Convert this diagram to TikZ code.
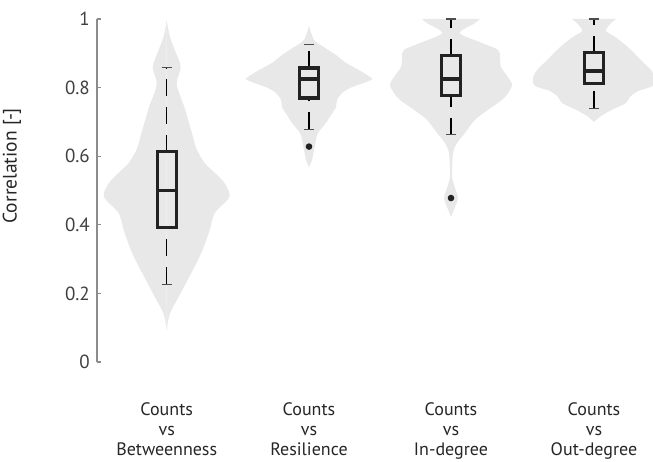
\documentclass[tikz,border=0pt]{standalone}
\usepackage{fontspec}
\setmainfont{PT Sans}
\usetikzlibrary{positioning}
\definecolor{violingray}{RGB}{232,232,232}
\definecolor{boxblack}{RGB}{34,34,34}
\definecolor{axisgray}{RGB}{140,140,140}
\definecolor{labelgray}{RGB}{64,64,64}
\tikzset{violin/.style={fill=violingray, draw=none},
	boxline/.style={draw=boxblack, line width=3.3pt},
	whisker/.style={draw=black, line width=1.1pt, dash pattern=on 17pt off 11pt},
	whiskercap/.style={draw=black!70, line width=1.1pt},
	outlier/.style={fill=boxblack},
	axisline/.style={draw=axisgray, line width=1.3pt},
	ticklabel/.style={font=\fontsize{19}{22}\selectfont, text=labelgray, anchor=east, inner sep=0pt},
	catlabel/.style={font=\fontsize{18}{20}\selectfont, text=black!85, align=center, anchor=north, inner sep=0pt}}

\begin{document}
\begin{tikzpicture}[x=1pt, y=1pt]
	\useasboundingbox (0,0) rectangle (653,462);
	\begin{scope}[yshift=100pt, y=343pt]
		% violins, one half at a time
		\foreach \s in {1,-1}{
			\fill[violin, xshift=166.7pt, xscale=\s] plot[smooth] coordinates {(0,0.09) (3,0.14) (12,0.19) (21,0.24) (30,0.29) (37,0.335) (43,0.385) (48,0.434) (60,0.47) (63,0.49) (57,0.525) (45,0.56) (38,0.58) (30,0.62) (25,0.67) (18,0.74) (10,0.81) (14,0.86) (8,0.91) (3,0.95) (0,0.997)} -- cycle;
			\fill[violin, xshift=309pt, xscale=\s] plot[smooth] coordinates {(0,0.569) (3,0.589) (5,0.618) (7,0.647) (9,0.668) (17,0.697) (22,0.72) (27,0.743) (28,0.764) (33,0.784) (42,0.80) (62,0.822) (61,0.831) (50,0.851) (37,0.872) (27,0.895) (15,0.918) (5,0.939) (0,0.98)} -- cycle;
			\fill[violin, xshift=451pt, xscale=\s] plot[smooth] coordinates {(0,0.423) (4,0.452) (7,0.478) (3,0.516) (1,0.545) (2,0.609) (6,0.638) (14,0.668) (24,0.706) (37,0.735) (51,0.764) (57,0.784) (61,0.808) (57,0.831) (50,0.86) (49,0.889) (47,0.91) (31,0.93) (9,0.959) (24,0.988) (29,1)} -- (0,1) -- cycle;
			\fill[violin, xshift=594pt, xscale=\s] plot[smooth] coordinates {(0,0.70) (7,0.717) (17,0.734) (32,0.755) (36,0.773) (44,0.79) (59,0.805) (61,0.828) (57,0.851) (47,0.880) (34,0.918) (21,0.948) (12,0.965) (16,0.985) (22,1)} -- (0,1) -- cycle;
		}
		% boxes and whiskers
		\foreach \x/\lo/\qa/\md/\qb/\hi [count=\i] in {166.7/0.227/0.393/0.500/0.613/0.858, 309/0.678/0.770/0.825/0.857/0.926, 451/0.662/0.776/0.825/0.893/1.0, 594/0.740/0.812/0.848/0.902/1.0}{
			\coordinate (low\i) at (\x,\lo);
			\coordinate (high\i) at (\x,\hi);
			\draw[whisker] (low\i) -- (\x,\qa);
			\draw[whisker] (\x,\qb) -- (high\i);
			\draw[whiskercap] ([xshift=-5pt]low\i) -- ([xshift=5pt]low\i);
			\draw[whiskercap] ([xshift=-5pt]high\i) -- ([xshift=5pt]high\i);
			\draw[boxline] (\x-9.5,\qa) rectangle (\x+9.5,\qb);
			\draw[boxline] (\x-9.5,\md) -- (\x+9.5,\md);
		}
		\fill[outlier] (309,0.628) circle (3.3pt);
		\fill[outlier] (451,0.478) circle (3.3pt);
		% axis
		\draw[axisline] (97,0) -- (97,1);
		\foreach \t [count=\k] in {0,0.2,0.4,0.6,0.8,1}{
			\draw[axisline] (97,\t) -- ++(4pt,0);
			\node[ticklabel] (tick\k) at (90,\t) {\t};
		}
	\end{scope}
	\node[font=\fontsize{19.5}{22}\selectfont, text=black!85, rotate=90] (ytitle) at (12,296) {Correlation [-]};
	\node[catlabel] (cat1) at (166.7,59.5) {Counts\\vs\\Betweenness};
	\node[catlabel] (cat2) at (309,59.5) {Counts\\vs\\Resilience};
	\node[catlabel] (cat3) at (451,59.5) {Counts\\vs\\In-degree};
	\node[catlabel] (cat4) at (594,59.5) {Counts\\vs\\Out-degree};
\end{tikzpicture}
\end{document}
